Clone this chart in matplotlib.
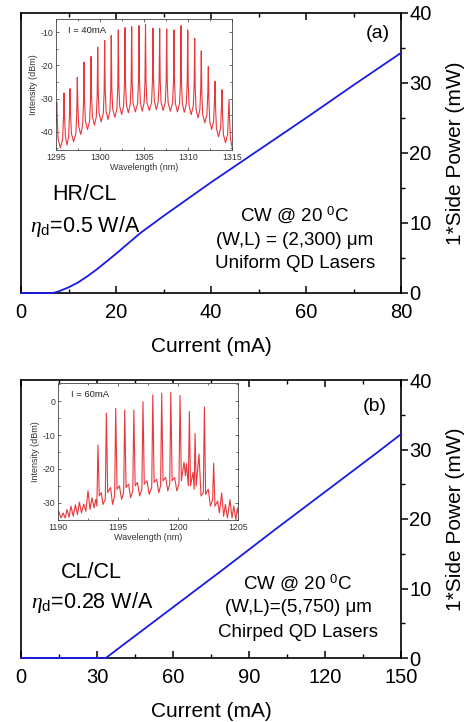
import matplotlib
matplotlib.use("Agg")
import matplotlib.pyplot as plt
from matplotlib.ticker import MultipleLocator

plt.rcParams['font.family'] = ['Liberation Sans', 'DejaVu Sans']
plt.rcParams['mathtext.fontset'] = 'custom'
plt.rcParams['mathtext.rm'] = 'Liberation Sans'
plt.rcParams['mathtext.it'] = 'Liberation Serif:italic'
plt.rcParams['axes.unicode_minus'] = False

# ---- L-I curves ----
current_a = [0, 6, 7, 8, 10, 12, 14, 16, 18, 20, 25, 30, 40, 50, 60, 70, 80]
power_a = [0, 0, 0.05, 0.25, 0.8, 1.5, 2.4, 3.4, 4.5, 5.6, 8.5, 11.0, 15.8, 20.4, 25.0, 29.7, 34.3]

current_b = [0, 33.5, 40, 60, 80, 100, 120, 140, 150]
power_b = [0, 0, 1.8, 7.3, 12.8, 18.4, 23.9, 29.4, 32.2]

# ---- spectrum (a), I = 40 mA : peaks and valleys ----
peak_nm_a = [1295.08, 1295.91, 1296.59, 1297.42, 1298.18, 1298.98, 1299.74, 1300.53,
             1301.28, 1302.08, 1302.84, 1303.60, 1304.43, 1305.17, 1306.02, 1306.78,
             1307.58, 1308.41, 1309.20, 1309.97, 1310.76, 1311.51, 1312.31, 1313.07,
             1313.86, 1314.66]
peak_db_a = [-31, -28.3, -27, -23.6, -19, -17.3, -14.5, -12.5, -11, -9.3, -8.6, -8.3, -8,
             -7.6, -8.8, -8.8, -9, -9.3, -8, -9.3, -11.8, -15.6, -20.3, -24.8, -27.3, -30.3]
valley_nm_a = [1295.50, 1296.25, 1297.00, 1297.80, 1298.58, 1299.36, 1300.13, 1300.90,
               1301.68, 1302.46, 1303.22, 1304.02, 1304.80, 1305.60, 1306.40, 1307.18,
               1308.00, 1308.80, 1309.58, 1310.36, 1311.14, 1311.91, 1312.69, 1313.46,
               1314.26]
valley_db_a = [-44.8, -44, -43, -40.8, -39.3, -38, -37, -36.3, -35.6, -34.8, -34.3, -34,
               -33.8, -33.6, -33.3, -33.6, -33.8, -34, -34.1, -34.8, -35.8, -37.3, -39.3,
               -41.5, -43.3]
edge_nm_a = [1295.0, 1315.0]
edge_db_a = [-37, -44.5]

# ---- spectrum (b), I = 60 mA : traced vertices ----
spec_nm_b = [1190.0, 1190.06, 1190.25, 1190.42, 1190.6, 1190.75, 1190.92, 1191.08, 1191.27,
             1191.45, 1191.62, 1191.78, 1191.96, 1192.14, 1192.32, 1192.5, 1192.67, 1192.83,
             1193.0, 1193.15, 1193.24, 1193.33, 1193.44, 1193.6, 1193.75, 1193.94, 1194.03,
             1194.14, 1194.38, 1194.55, 1194.72, 1194.81, 1194.92, 1195.12, 1195.3, 1195.47,
             1195.56, 1195.67, 1195.88, 1196.05, 1196.23, 1196.32, 1196.43, 1196.62, 1196.8,
             1196.99, 1197.08, 1197.19, 1197.42, 1197.6, 1197.81, 1197.9, 1198.01, 1198.22,
             1198.4, 1198.55, 1198.64, 1198.75, 1198.97, 1199.15, 1199.31, 1199.4, 1199.51,
             1199.72, 1199.9, 1200.08, 1200.17, 1200.28, 1200.5, 1200.62, 1200.7, 1200.86,
             1200.95, 1201.04, 1201.25, 1201.35, 1201.42, 1201.52, 1201.75, 1201.92, 1202.11,
             1202.2, 1202.3, 1202.52, 1202.7, 1202.89, 1202.97, 1203.08, 1203.3, 1203.45,
             1203.64, 1203.8, 1203.95, 1204.12, 1204.33, 1204.5, 1204.65, 1204.82, 1204.95,
             1205.0]
spec_db_b = [-33.5, -32.5, -34.5, -33.0, -34.5, -32.0, -34.3, -31.0, -34.0,
             -30.6, -33.5, -29.8, -33.0, -30.4, -32.5, -26.5, -32.0, -28.5,
             -31.5, -29.0, -31.0, -12.9, -28.0, -27.0, -30.5, -29.0, -3.5,
             -27.0, -25.5, -30.5, -28.0, -2.1, -26.0, -25.0, -29.0, -27.0,
             -2.6, -25.5, -24.5, -28.5, -26.5, -2.6, -25.0, -24.0, -28.0,
             -26.0, -0.1, -24.5, -23.5, -27.5, -25.5, 1.9, -24.0, -23.0,
             -27.0, -25.0, 2.4, -23.5, -22.5, -26.5, -24.5, 2.7, -23.5,
             -22.5, -26.5, -24.5, 1.7, -23.5, -18.0, -22.0, -18.4, -25.0,
             -3.0, -25.0, -21.0, -26.0, -9.5, -25.0, -15.6, -28.0, -27.0,
             -1.7, -27.5, -26.0, -31.0, -29.0, -18.3, -31.0, -29.5, -33.0,
             -27.1, -34.0, -30.5, -34.5, -29.1, -34.5, -31.0, -35.0, -31.5,
             -33.0]

BLUE = '#1a1ae6'
RED = '#e8383d'


def px(x0, y0, w, h):
    # figure pixels (from top-left) -> figure fraction rect
    return [x0 / 476, 1 - (y0 + h) / 722, w / 476, h / 722]


def main_panel(rect, cur, pw, xmax, xmaj, tag, texts, cw_lines):
    ax = fig.add_axes(rect)
    ax.plot(cur, pw, color=BLUE, lw=1.3, clip_on=False, zorder=5)
    ax.set_xlim(0, xmax)
    ax.set_ylim(0, 40)
    ax.xaxis.set_major_locator(MultipleLocator(xmaj))
    ax.xaxis.set_minor_locator(MultipleLocator(xmaj / 2))
    ax.yaxis.set_major_locator(MultipleLocator(10))
    ax.yaxis.set_minor_locator(MultipleLocator(5))
    ax.yaxis.tick_right()
    ax.yaxis.set_label_position('right')
    ax.tick_params(axis='x', which='both', direction='in', top=True, bottom=True,
                   labelsize=14.5, pad=7)
    ax.tick_params(axis='x', which='major', length=5, width=1.1)
    ax.tick_params(axis='x', which='minor', length=3, width=1.0)
    ax.tick_params(axis='y', which='both', direction='out', left=False, right=True,
                   labelsize=14.5, pad=1)
    ax.tick_params(axis='y', which='major', length=5, width=1.1)
    ax.tick_params(axis='y', which='minor', length=3, width=1.0)
    for s in ax.spines.values():
        s.set_linewidth(1.2)
    ax.set_xlabel('Current (mA)', fontsize=15, labelpad=11)
    ax.set_ylabel('1*Side Power (mW)', fontsize=15, labelpad=10)
    ax.text(tag[1], tag[2], tag[0], transform=ax.transAxes, fontsize=14,
            ha='center', va='center')
    for (t, x, y, fs) in texts:
        ax.text(x, y, t, transform=ax.transAxes, fontsize=fs, ha='center', va='center')
    for (t, x, y) in cw_lines:
        ax.text(x, y, t, transform=ax.transAxes, fontsize=13.5, ha='center', va='center')
    return ax


def inset(rect, xs, ys, xlim, ylim, xmaj, ymaj, label):
    ax = fig.add_axes(rect)
    ax.plot(xs, ys, color=RED, lw=0.8)
    ax.set_xlim(*xlim)
    ax.set_ylim(*ylim)
    ax.xaxis.set_major_locator(MultipleLocator(xmaj))
    ax.xaxis.set_minor_locator(MultipleLocator(xmaj / 2))
    ax.yaxis.set_major_locator(MultipleLocator(ymaj))
    ax.yaxis.set_minor_locator(MultipleLocator(ymaj / 2))
    ax.tick_params(which='both', direction='in', top=True, right=True, labelsize=6.3,
                   colors='#333333', pad=2, width=0.5)
    ax.tick_params(which='major', length=2.5)
    ax.tick_params(which='minor', length=1.5)
    for s in ax.spines.values():
        s.set_linewidth(0.6)
        s.set_color('#444444')
    ax.set_xlabel('Wavelength (nm)', fontsize=6.5, labelpad=1, color='#333333')
    ax.set_ylabel('Intensity (dBm)', fontsize=6.5, labelpad=2, color='#333333')
    ax.text(0.07, 0.95, label, transform=ax.transAxes, fontsize=6.8, va='top',
            color='#222222')
    return ax


fig = plt.figure(figsize=(4.76, 7.22), dpi=100)

main_panel(px(21, 13, 380, 280), current_a, power_a, 80, 20, ('(a)', 0.939, 0.925),
           [('HR/CL', 0.168, 0.35, 15.5),
            (r'$\eta_{\mathrm{d}}$=0.5 W/A', 0.168, 0.236, 15.5)],
           [(r'CW @ 20 $^{0}$C', 0.721, 0.279),
            ('(W,L) = (2,300) \u03bcm', 0.721, 0.189),
            ('Uniform QD Lasers', 0.721, 0.107)])

main_panel(px(21, 380, 380, 278), current_b, power_b, 150, 30, ('(b)', 0.932, 0.905),
           [('CL/CL', 0.184, 0.306, 15.5),
            (r'$\eta_{\mathrm{d}}$=0.28 W/A', 0.187, 0.198, 15.5)],
           [(r'CW @ 20 $^{0}$C', 0.729, 0.270),
            ('(W,L)=(5,750) \u03bcm', 0.729, 0.180),
            ('Chirped QD Lasers', 0.729, 0.090)])

# top spectrum: narrow lasing lines over a rounded floor.
# skirt offsets (nm) and rise above the local floor (dB) shape each line
skirt_dx = [0.06, 0.16]
skirt_rise = [9.0, 2.5]
xa = [edge_nm_a[0]]
ya = [edge_db_a[0]]
for i in range(len(peak_nm_a)):
    left_floor = valley_db_a[i - 1] if i > 0 else edge_db_a[0]
    right_floor = valley_db_a[i] if i < len(valley_db_a) else edge_db_a[1]
    if i > 0:
        for dx, r in zip(skirt_dx[::-1], skirt_rise[::-1]):
            xa.append(peak_nm_a[i] - dx)
            ya.append(left_floor + r)
    else:
        xa.append(peak_nm_a[i] - 0.05)
        ya.append(left_floor + 1)
    xa.append(peak_nm_a[i])
    ya.append(peak_db_a[i])
    for dx, r in zip(skirt_dx, skirt_rise):
        xa.append(peak_nm_a[i] + dx)
        ya.append(right_floor + r)
    if i < len(valley_nm_a):
        xa.append(valley_nm_a[i])
        ya.append(valley_db_a[i])
xa.append(edge_nm_a[1])
ya.append(edge_db_a[1])

inset(px(56, 19, 176, 131), xa, ya, (1295, 1315), (-45.5, -6), 5, 10, 'I = 40mA')
inset(px(58, 383, 180, 137), spec_nm_b, spec_db_b, (1190, 1205), (-35.1, 5.4), 5, 10,
      'I = 60mA')

plt.savefig('out.png', dpi=100)
